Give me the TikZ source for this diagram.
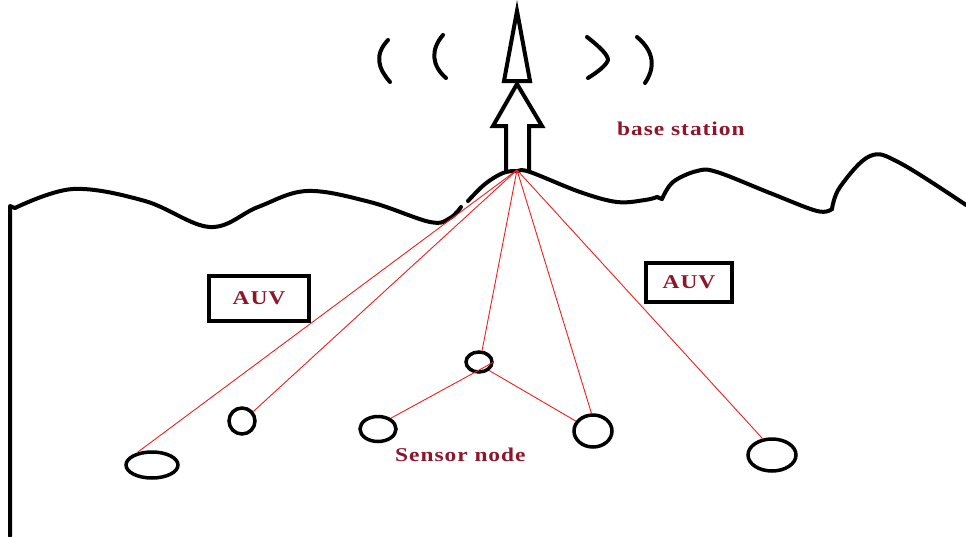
\documentclass[tikz,border=0pt]{standalone}
\usepackage{fontspec}
\usetikzlibrary{shapes.geometric}
\newfontfamily\lblfont[FakeStretch=1.2,LetterSpace=5]{Liberation Serif}
\definecolor{lblred}{RGB}{140,22,42}
\definecolor{linkred}{RGB}{240,30,30}
\begin{document}
\begin{tikzpicture}[x=1pt,y=-1pt,
  ink/.style={line width=4pt,line join=round,line cap=round},
  sensor/.style={ellipse,draw,line width=3.5pt,inner sep=0pt},
  auvbox/.style={draw,line width=4pt,minimum width=100pt,minimum height=45pt,
    font=\lblfont\fontsize{19.5}{21}\selectfont\bfseries,text=lblred},
  caption/.style={font=\lblfont\fontsize{19.5}{21}\selectfont\bfseries,text=lblred,inner sep=0pt},
  link/.style={draw=linkred,line width=0.9pt}]
\useasboundingbox (0,0) rectangle (966,536);

% sea surface
\draw[ink] (10,536) -- (10,206) -- (15,208);
\draw[ink] plot[smooth,tension=0.6] coordinates {(15,208) (73,189) (145,201) (210,227) (258,207) (307,191) (370,202) (430,222) (450,218) (461,207)};
\draw[ink] plot[smooth,tension=0.6] coordinates {(468,201) (485,184) (503,173) (517,171) (530,172) (580,192) (617,202) (645,200) (657,197)};
\draw[ink] (657,197) -- (662,199);
\draw[ink] plot[smooth,tension=0.6] coordinates {(662,199) (673,182) (697,171) (717,172) (770,193) (817,211) (832,209)};
\draw[ink] plot[smooth,tension=0.6] coordinates {(832,209) (840,187) (870,156) (900,163) (966,205)};

% antenna of the base station
\draw[ink,line join=miter,line cap=butt] (506,172) -- (506,126) -- (493,126) -- (517,84) -- (542,126) -- (529,126) -- (529,172);
\draw[ink,line join=miter] (504,81) -- (517,11) -- (530,81) -- cycle;

% radio waves
\draw[ink] (388,40) .. controls (374,55) and (378,68) .. (390,82);
\draw[ink] (443,35) .. controls (430,50) and (432,66) .. (446,78);
\draw[ink] (587,37) .. controls (600,47) and (608,55) .. (608,60) .. controls (606,66) and (596,73) .. (588,78);
\draw[ink] (637,37) .. controls (655,52) and (655,68) .. (645,83);

\coordinate (bs) at (517,170);
\node[caption,anchor=base west] (bslabel) at (617,135) {base station};

% AUVs
\node[auvbox] (auv1) at (259,298) {AUV};
\node[auvbox,minimum width=86pt,minimum height=39pt] (auv2) at (689,282) {AUV};

% sensor nodes
\node[sensor,minimum width=52pt,minimum height=26pt] (s1) at (152,465) {};
\node[sensor,minimum width=26pt,minimum height=26pt] (s2) at (242,421) {};
\node[sensor,minimum width=36pt,minimum height=25pt] (s3) at (378,429) {};
\node[sensor,minimum width=26pt,minimum height=20pt] (s4) at (479,362) {};
\node[sensor,minimum width=38pt,minimum height=32pt] (s5) at (593,431) {};
\node[sensor,minimum width=48pt,minimum height=32pt] (s6) at (772,455) {};
\node[caption,anchor=base west] (snlabel) at (395,461) {Sensor node};

% acoustic links
\draw[link] (bs) -- (s1.140);
\draw[link] (bs) -- (s2.40);
\draw[link] (bs) -- (s4.75);
\draw[link] (bs) -- (s5.95);
\draw[link] (bs) -- (s6.120);
\draw[link] (s4.east) -- (s3.40);
\draw[link] (s4.-40) -- (s5.150);
\end{tikzpicture}
\end{document}
